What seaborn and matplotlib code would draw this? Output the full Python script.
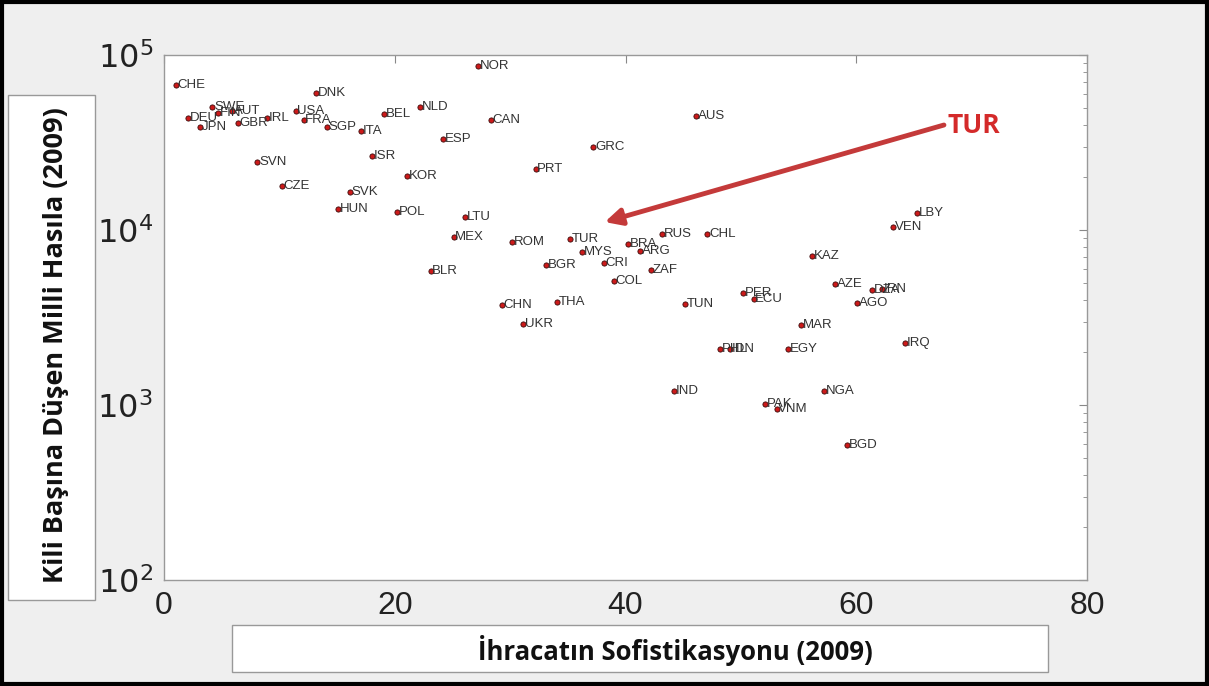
import matplotlib
matplotlib.use("Agg")
import matplotlib.pyplot as plt
import seaborn as sns
import pandas as pd
from matplotlib.patches import Rectangle

countries = ["CHE", "DNK", "NOR", "SWE", "FIN", "AUT", "DEU", "JPN", "GBR", "IRL",
             "USA", "FRA", "BEL", "NLD", "SGP", "ITA", "CAN", "AUS", "ESP", "GRC",
             "ISR", "SVN", "PRT", "KOR", "CZE", "SVK", "HUN", "POL", "LTU", "MEX",
             "ROM", "TUR", "MYS", "BRA", "ARG", "RUS", "CHL", "BGR", "CRI", "ZAF",
             "COL", "BLR", "CHN", "THA", "UKR", "TUN", "PER", "ECU", "KAZ", "AZE",
             "DZA", "IRN", "AGO", "LBY", "VEN", "MAR", "EGY", "IRQ", "PHL", "IDN",
             "IND", "NGA", "PAK", "VNM", "BGD"]
sophistication = [1.0, 13.2, 27.2, 4.2, 4.7, 5.9, 2.1, 3.1, 6.4, 8.9,
                  11.4, 12.1, 19.1, 22.2, 14.1, 17.1, 28.3, 46.1, 24.2, 37.2,
                  18.0, 8.1, 32.2, 21.1, 10.2, 16.1, 15.1, 20.2, 26.1, 25.1,
                  30.2, 35.2, 36.2, 40.2, 41.3, 43.2, 47.1, 33.1, 38.1, 42.2,
                  39.0, 23.1, 29.3, 34.1, 31.1, 45.2, 50.2, 51.1, 56.2, 58.2,
                  61.4, 62.2, 60.1, 65.3, 63.2, 55.2, 54.1, 64.2, 48.2, 49.1,
                  44.2, 57.2, 52.1, 53.1, 59.2]
gni_per_capita = [67400, 60600, 86500, 50500, 46600, 47900, 43600, 38800, 40800, 43600,
                  47900, 42600, 46000, 50500, 38800, 36800, 42500, 44800, 33100, 29800,
                  26500, 24500, 22300, 20400, 17800, 16500, 13200, 12700, 11900, 9100,
                  8500, 8900, 7500, 8300, 7600, 9500, 9500, 6300, 6500, 5900,
                  5100, 5800, 3730, 3880, 2900, 3780, 4370, 4040, 7100, 4900,
                  4540, 4600, 3830, 12500, 10400, 2860, 2090, 2260, 2090, 2090,
                  1200, 1200, 1010, 950, 590]

x_ticks = [0, 20, 40, 60, 80]
y_ticks = [100, 1000, 10000, 100000]
y_ticklabels = [r"$10^{2}$", r"$10^{3}$", r"$10^{4}$", r"$10^{5}$"]
xlabel = "İhracatın Sofistikasyonu (2009)"
ylabel = "Kili Başına Düşen Milli Hasıla (2009)"
highlight = "TUR"

df = pd.DataFrame({"country": countries, "x": sophistication, "y": gni_per_capita})

sns.set_style("white")
plt.rcParams["font.family"] = ["Liberation Sans", "DejaVu Sans"]

fig = plt.figure(figsize=(12.09, 6.86), dpi=100, facecolor="#efefef")
ax = fig.add_axes([164 / 1209, 1 - 580 / 686, (1087 - 164) / 1209, (580 - 55) / 686])
ax.set_facecolor("white")

sns.scatterplot(data=df, x="x", y="y", ax=ax, color="#cc1a1a", s=14,
                edgecolor="#3a0a0a", linewidth=0.6, marker="o", zorder=3)
for c, xv, yv in zip(countries, sophistication, gni_per_capita):
    ax.text(xv + 0.15, yv, c, fontsize=9.5, color="#333333",
            ha="left", va="center", zorder=4)

ax.set_yscale("log")
ax.set_xlim(0, 80)
ax.set_ylim(100, 100000)
ax.set_xticks(x_ticks)
ax.set_xticklabels([str(t) for t in x_ticks], fontsize=23)
ax.set_yticks(y_ticks)
ax.set_yticklabels(y_ticklabels, fontsize=23)
ax.set_xlabel("")
ax.set_ylabel("")
ax.tick_params(axis="both", which="both", direction="in", top=True, right=True,
               colors="#888888", labelcolor="#222222")
ax.tick_params(axis="both", which="major", length=6, pad=8)
ax.tick_params(axis="y", which="minor", length=3)
for s in ax.spines.values():
    s.set_color("#999999")
    s.set_linewidth(1.0)

# Arrow to TUR
ax.annotate("", xy=(38.2, 11100), xytext=(67.6, 39800),
            arrowprops=dict(arrowstyle="-|>,head_length=1.0,head_width=0.5",
                            color="#c43a3a", lw=3.5, shrinkA=0, shrinkB=0),
            zorder=5)
ax.text(67.9, 39800, highlight, fontsize=19, fontweight="bold", color="#d42a2a",
        ha="left", va="center", family=["Open Sans", "DejaVu Sans"], zorder=5)

# Label boxes
fig.patches.append(Rectangle((8 / 1209, 1 - 600 / 686), 87 / 1209, 505 / 686,
                             transform=fig.transFigure, facecolor="white",
                             edgecolor="#999999", linewidth=1.0, zorder=0))
fig.text(56 / 1209, 1 - 345 / 686, ylabel, rotation=90, fontsize=19.5,
         fontweight="bold", ha="center", va="center", color="#111111",
         family=["Open Sans", "DejaVu Sans"])
fig.patches.append(Rectangle((232 / 1209, 1 - 672 / 686), 816 / 1209, 47 / 686,
                             transform=fig.transFigure, facecolor="white",
                             edgecolor="#999999", linewidth=1.0, zorder=0))
fig.text(675 / 1209, 1 - 650 / 686, xlabel, fontsize=18.5, fontweight="bold",
         ha="center", va="center", color="#111111",
         family=["Open Sans", "DejaVu Sans"])

# Outer border
fig.patches.append(Rectangle((0.002, 0.003), 0.996, 0.994, transform=fig.transFigure,
                             facecolor="none", edgecolor="black", linewidth=3, zorder=10))

fig.savefig("out.png", dpi=100, facecolor=fig.get_facecolor())
